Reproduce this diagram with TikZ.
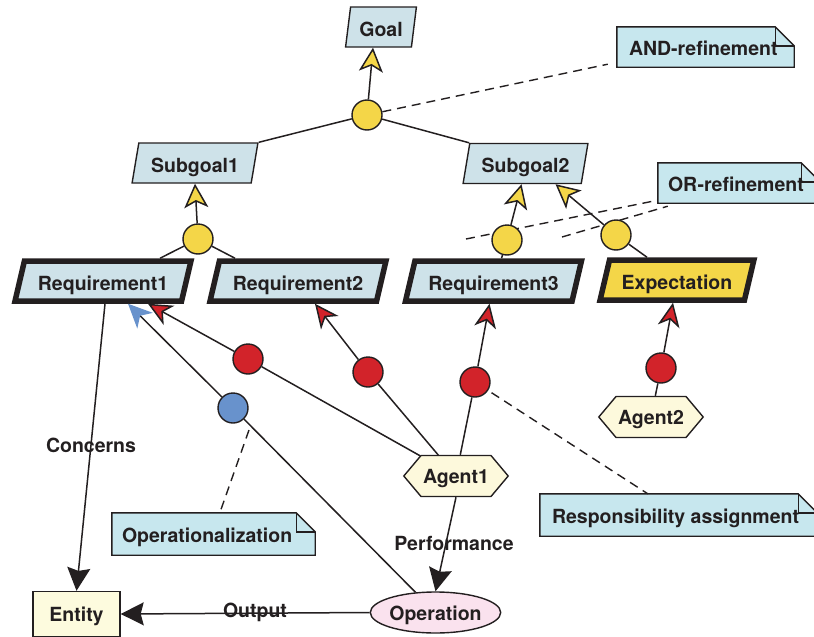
\documentclass[tikz,border=0pt]{standalone}
\usepackage{fontspec}
\setmainfont{TeX Gyre Heros}
\usetikzlibrary{arrows.meta,shapes.geometric,shapes.symbols}

\definecolor{ink}{RGB}{35,31,32}
\definecolor{goalfill}{RGB}{206,226,233}
\definecolor{notefill}{RGB}{199,231,238}
\definecolor{ycol}{RGB}{244,214,72}
\definecolor{rcol}{RGB}{210,35,42}
\definecolor{bcol}{RGB}{104,146,204}
\definecolor{agentfill}{RGB}{253,249,220}
\definecolor{entityfill}{RGB}{253,251,222}
\definecolor{opfill}{RGB}{250,226,238}

\pgfdeclarelayer{bg}
\pgfsetlayers{bg,main}

% folded-corner outline behind a note node
\newcommand\foldnote[1]{%
  \begin{pgfonlayer}{bg}
    \draw[line width=1.4pt, draw=ink, fill=notefill]
      (#1.south west) -- (#1.north west) -- ([xshift=-19pt]#1.north east)
      -- ([yshift=-19pt]#1.north east) -- (#1.south east) -- cycle;
    \draw[line width=1.4pt, draw=ink]
      ([xshift=-19pt]#1.north east) |- ([yshift=-19pt]#1.north east);
  \end{pgfonlayer}}

\begin{document}
\begin{tikzpicture}[x=1pt, y=-1pt,
  every node/.style={font=\fontsize{19.5}{23}\selectfont\bfseries, text=ink,
    text height=15pt, text depth=0pt},
  link/.style={line width=1.5pt, draw=ink},
  goalbox/.style={trapezium, trapezium left angle=76, trapezium right angle=104,
    trapezium stretches=true, draw=ink, line width=1.4pt, fill=goalfill,
    minimum height=40pt, inner sep=2pt, text height=18pt},
  reqbox/.style={goalbox, line width=5.5pt, trapezium left angle=70,
    trapezium right angle=110},
  refc/.style={circle, draw=ink, line width=1.4pt, minimum size=30pt,
    inner sep=0pt, fill=ycol},
  respc/.style={refc, fill=rcol},
  operc/.style={refc, fill=bcol},
  agentbox/.style={signal, signal to=west and east, signal pointer angle=100,
    draw=ink, line width=1.4pt, fill=agentfill, minimum width=104pt,
    minimum height=41pt, inner sep=2pt},
  entitybox/.style={rectangle, draw=ink, line width=1.4pt, fill=entityfill,
    minimum width=87pt, minimum height=45pt},
  opbox/.style={ellipse, draw=ink, line width=1.4pt, fill=opfill,
    minimum width=127pt, minimum height=41pt, inner sep=0pt},
  notebox/.style={rectangle, inner ysep=0pt, minimum height=40pt, text height=16pt},
  yarrow/.style={link, -{Stealth[length=24pt, width=24pt, inset=6pt, fill=ycol]}},
  rarrow/.style={link, -{Stealth[length=24pt, width=22pt, inset=7pt, fill=rcol]}},
  barrow/.style={link, -{Stealth[length=24pt, width=22pt, inset=7pt, color=bcol, fill=bcol]}},
  karrow/.style={link, -{Stealth[length=23pt, width=23pt, inset=3pt]}},
  dashlink/.style={draw=ink, dash pattern=on 9pt off 6pt, line width=1.4pt}
]
\useasboundingbox (0,0) rectangle (814,637);

% goals and leaves
\node[goalbox, minimum width=71pt, trapezium left angle=80, trapezium right angle=100] (goal) at (381,27) {Goal};
\node[goalbox, minimum width=126pt] (sub1) at (195,163) {Subgoal1};
\node[goalbox, minimum width=125pt] (sub2) at (525.5,163.5) {Subgoal2};
\node[reqbox, minimum width=176pt] (req1) at (103,281) {Requirement1};
\node[reqbox, minimum width=176pt] (req2) at (298,281) {Requirement2};
\node[reqbox, minimum width=176pt] (req3) at (493.5,281) {Requirement3};
\node[reqbox, fill=ycol, minimum width=154pt] (expect) at (677,280) {Expectation};

% refinement, responsibility and operationalization circles
\node[refc] (andG) at (367,115) {};
\node[refc] (andS) at (198,239) {};
\node[refc] (orA) at (507,240) {};
\node[refc] (orB) at (616,235) {};
\node[respc] (redA) at (248,359) {};
\node[respc] (redB) at (368,372) {};
\node[respc] (redC) at (475,382) {};
\node[respc] (redD) at (661,368) {};
\node[operc] (blueop) at (233,408) {};

% agents, entity, operation
\node[agentbox] (agent1) at (456,476) {Agent1};
\node[agentbox] (agent2) at (651,417) {Agent2};
\node[entitybox] (entity) at (76.5,614) {Entity};
\node[opbox] (operation) at (435.5,612.5) {Operation};

% notes
\node[notebox, inner xsep=12pt] (andnote) at (705.5,47) {\makebox[153pt][l]{AND-refinement}};
\node[notebox, inner xsep=10pt] (ornote) at (739,183) {\makebox[142pt][l]{OR-refinement}};
\node[notebox, inner xsep=12pt, minimum height=42pt] (respnote) at (678.5,515) {\makebox[253pt][l]{Responsibility assignment}};
\node[notebox, inner xsep=10pt, minimum height=42pt] (opnote) at (213.5,534) {\makebox[183pt][l]{Operationalization}};
\foldnote{andnote}
\foldnote{ornote}
\foldnote{respnote}
\foldnote{opnote}

% dashed note links
\coordinate (orfromA) at (466,239);
\coordinate (orfromB) at (562,237);
\coordinate (opfrom) at (249,430);
\begin{pgfonlayer}{bg}
  \draw[dashlink] (andG) -- ([xshift=-9pt,yshift=3pt]andnote.south west);
  \draw[dashlink] (orfromA) -- ([yshift=3pt]ornote.south west);
  \draw[dashlink] (orfromB) -- ([xshift=10pt,yshift=-3pt]ornote.south west);
  \draw[dashlink, shorten <=4pt] (redC) -- ([xshift=108pt]respnote.north west);
  \draw[dashlink] (opfrom) -- ([xshift=108pt]opnote.north west);
\end{pgfonlayer}

% AND / OR refinement links
\draw[yarrow] (andG) -- ([xshift=-8pt]goal.south);
\draw[link] (andG) -- (sub1.top right corner);
\draw[link] (andG) -- (sub2.top left corner);
\draw[yarrow] (andS) -- (sub1.south);
\draw[link] (andS) -- ([xshift=57pt]req1.north);
\draw[link] (andS) -- ([xshift=-63pt]req2.north);
\draw[yarrow] (orA) -- ([xshift=-4pt]sub2.south);
\draw[link] (orA) -- ([xshift=8pt]req3.north);
\draw[yarrow] (orB) -- ([xshift=30pt]sub2.south);
\draw[link] (orB) -- ([xshift=-30pt]expect.north);

% responsibility links
\draw[rarrow] (redA) -- ([xshift=45pt]req1.south);
\draw[link] (redA) -- (agent1);
\draw[rarrow] (redB) -- ([xshift=17pt]req2.south);
\draw[link] (redB) -- (agent1);
\draw[rarrow] (redC) -- ([xshift=-4pt]req3.south);
\draw[link] (redC) -- (agent1);
\draw[rarrow] (redD) -- ([xshift=-4pt]expect.south);
\draw[link] (redD) -- (agent2);

% operationalization link
\draw[barrow] (blueop) -- ([xshift=25pt]req1.south);
\draw[link] (blueop) -- (operation);

% concerns, performance, output
\draw[karrow] ([xshift=2pt]req1.south) -- (entity.north);
\draw[karrow] (agent1.south) -- (operation.north);
\draw[karrow] (operation.west) -- (entity.east);
\node (concerns) at (91,444.5) {Concerns};
\node (perf) at (454,542.5) {Performance};
\node (outlbl) at (255,609.5) {Output};
\end{tikzpicture}
\end{document}
